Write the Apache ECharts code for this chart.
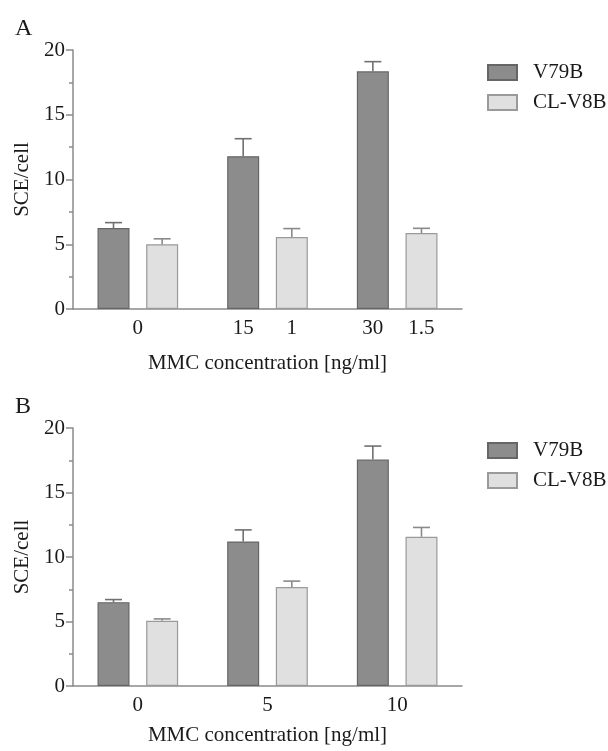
<!DOCTYPE html>
<html>
<head>
<meta charset="utf-8">
<script src="https://cdn.jsdelivr.net/npm/echarts@6/dist/echarts.min.js"></script>
<style>
  html, body { margin: 0; padding: 0; background: #ffffff; }
  #chart { width: 608px; height: 751px; }
</style>
</head>
<body>
<div id="chart"></div>
<script>
// Panel A: MMC doses differ per cell line (V79B: 0/15/30, CL-V8B: 0/1/1.5 ng/ml)
const groupLabelsA = ['0', '', ''];
const doseV79B_A = ['', '15', '30'];
const doseCL_A = ['', '1', '1.5'];
const v79bA = [6.25, 11.8, 18.35];
const v79bErrA = [0.42, 1.35, 0.75];
const clA = [5.0, 5.56, 5.87];
const clErrA = [0.42, 0.65, 0.36];

// Panel B: same MMC doses for both cell lines
const groupLabelsB = ['0', '5', '10'];
const v79bB = [6.5, 11.2, 17.55];
const v79bErrB = [0.2, 0.9, 1.05];
const clB = [5.05, 7.68, 11.57];
const clErrB = [0.15, 0.45, 0.72];

const seriesNames = ['V79B', 'CL-V8B'];
const yTicks = { min: 0, max: 20, interval: 5 };
const xTitle = 'MMC concentration [ng/ml]';
const yTitle = 'SCE/cell';

const FONT = '"Liberation Serif", "Times New Roman", serif';
const AXIS_GREY = '#8a8a8a';
const TEXT = '#1a1a1a';
const BAR_W = 32;
const BAR_GAP = 0.52;
const DARK = { color: '#8c8c8c', borderColor: '#666666', borderWidth: 1.2 };
const LIGHT = { color: '#e0e0e0', borderColor: '#9a9a9a', borderWidth: 1.2 };

const chart = echarts.init(document.getElementById('chart'), null, { renderer: 'canvas' });

function xAxisFor(gridIndex, cats, nameGap) {
  return {
    type: 'category', gridIndex, data: cats,
    axisLine: { lineStyle: { color: AXIS_GREY, width: 1.5 } },
    axisTick: { show: false },
    axisLabel: { color: TEXT, fontFamily: FONT, fontSize: 21, margin: 9 },
    name: xTitle, nameLocation: 'middle', nameGap,
    nameTextStyle: { color: TEXT, fontFamily: FONT, fontSize: 21 }
  };
}

function yAxisFor(gridIndex) {
  return {
    type: 'value', gridIndex,
    min: yTicks.min, max: yTicks.max, interval: yTicks.interval,
    axisLine: { show: true, lineStyle: { color: AXIS_GREY, width: 1.5 } },
    axisTick: { show: true, length: 7, lineStyle: { color: AXIS_GREY, width: 1.5 } },
    minorTick: { show: true, splitNumber: 2, length: 4, lineStyle: { color: AXIS_GREY, width: 1.5 } },
    splitLine: { show: false },
    axisLabel: { color: TEXT, fontFamily: FONT, fontSize: 21, margin: 8 },
    name: yTitle, nameLocation: 'middle', nameGap: 39,
    nameTextStyle: { color: TEXT, fontFamily: FONT, fontSize: 21 }
  };
}

function barSeries(name, gridIndex, values, style, doseLabels) {
  const s = {
    type: 'bar', name,
    xAxisIndex: gridIndex, yAxisIndex: gridIndex,
    data: values,
    barWidth: BAR_W, barGap: (BAR_GAP * 100) + '%',
    itemStyle: style,
    emphasis: { disabled: true }
  };
  if (doseLabels) {
    s.label = {
      show: true, position: 'bottom', distance: 9,
      color: TEXT, fontFamily: FONT, fontSize: 21,
      formatter: p => doseLabels[p.dataIndex]
    };
  }
  return s;
}

// Upper SEM whiskers drawn over each bar
function errorSeries(gridIndex, values, errs, side, color) {
  const offset = side * BAR_W * (1 + BAR_GAP) / 2;
  return {
    type: 'custom',
    name: 'err',
    xAxisIndex: gridIndex, yAxisIndex: gridIndex,
    z: 5,
    data: values.map((v, i) => [i, v, errs[i]]),
    renderItem: (params, api) => {
      const base = api.coord([api.value(0), api.value(1)]);
      const top = api.coord([api.value(0), api.value(1) + api.value(2)]);
      const x = base[0] + offset;
      const cap = 8.5;
      const style = { stroke: color, lineWidth: 1.6, fill: null };
      return {
        type: 'group',
        children: [
          { type: 'line', shape: { x1: x, y1: base[1], x2: x, y2: top[1] }, style },
          { type: 'line', shape: { x1: x - cap, y1: top[1], x2: x + cap, y2: top[1] }, style }
        ]
      };
    }
  };
}

function legendFor(top) {
  return {
    data: seriesNames, left: 482, top, orient: 'vertical',
    icon: 'rect',
    itemWidth: 29, itemHeight: 15, itemGap: 9,
    selectedMode: false,
    textStyle: { color: TEXT, fontFamily: FONT, fontSize: 21, padding: [0, 0, 0, 11] }
  };
}

const option = {
  backgroundColor: '#ffffff',
  animation: false,
  title: [
    { text: 'A', left: 10, top: 12, textStyle: { color: TEXT, fontFamily: FONT, fontSize: 24, fontWeight: 'normal' } },
    { text: 'B', left: 10, top: 390, textStyle: { color: TEXT, fontFamily: FONT, fontSize: 24, fontWeight: 'normal' } }
  ],
  legend: [legendFor(57), legendFor(435)],
  grid: [
    { left: 73, top: 50, width: 389, height: 259 },
    { left: 73, top: 428, width: 389, height: 258 }
  ],
  xAxis: [xAxisFor(0, groupLabelsA, 44), xAxisFor(1, groupLabelsB, 39)],
  yAxis: [yAxisFor(0), yAxisFor(1)],
  series: [
    barSeries(seriesNames[0], 0, v79bA, DARK, doseV79B_A),
    barSeries(seriesNames[1], 0, clA, LIGHT, doseCL_A),
    barSeries(seriesNames[0], 1, v79bB, DARK, null),
    barSeries(seriesNames[1], 1, clB, LIGHT, null),
    errorSeries(0, v79bA, v79bErrA, -1, '#707070'),
    errorSeries(0, clA, clErrA, 1, '#8a8a8a'),
    errorSeries(1, v79bB, v79bErrB, -1, '#707070'),
    errorSeries(1, clB, clErrB, 1, '#8a8a8a')
  ]
};

chart.setOption(option);
</script>
</body>
</html>
